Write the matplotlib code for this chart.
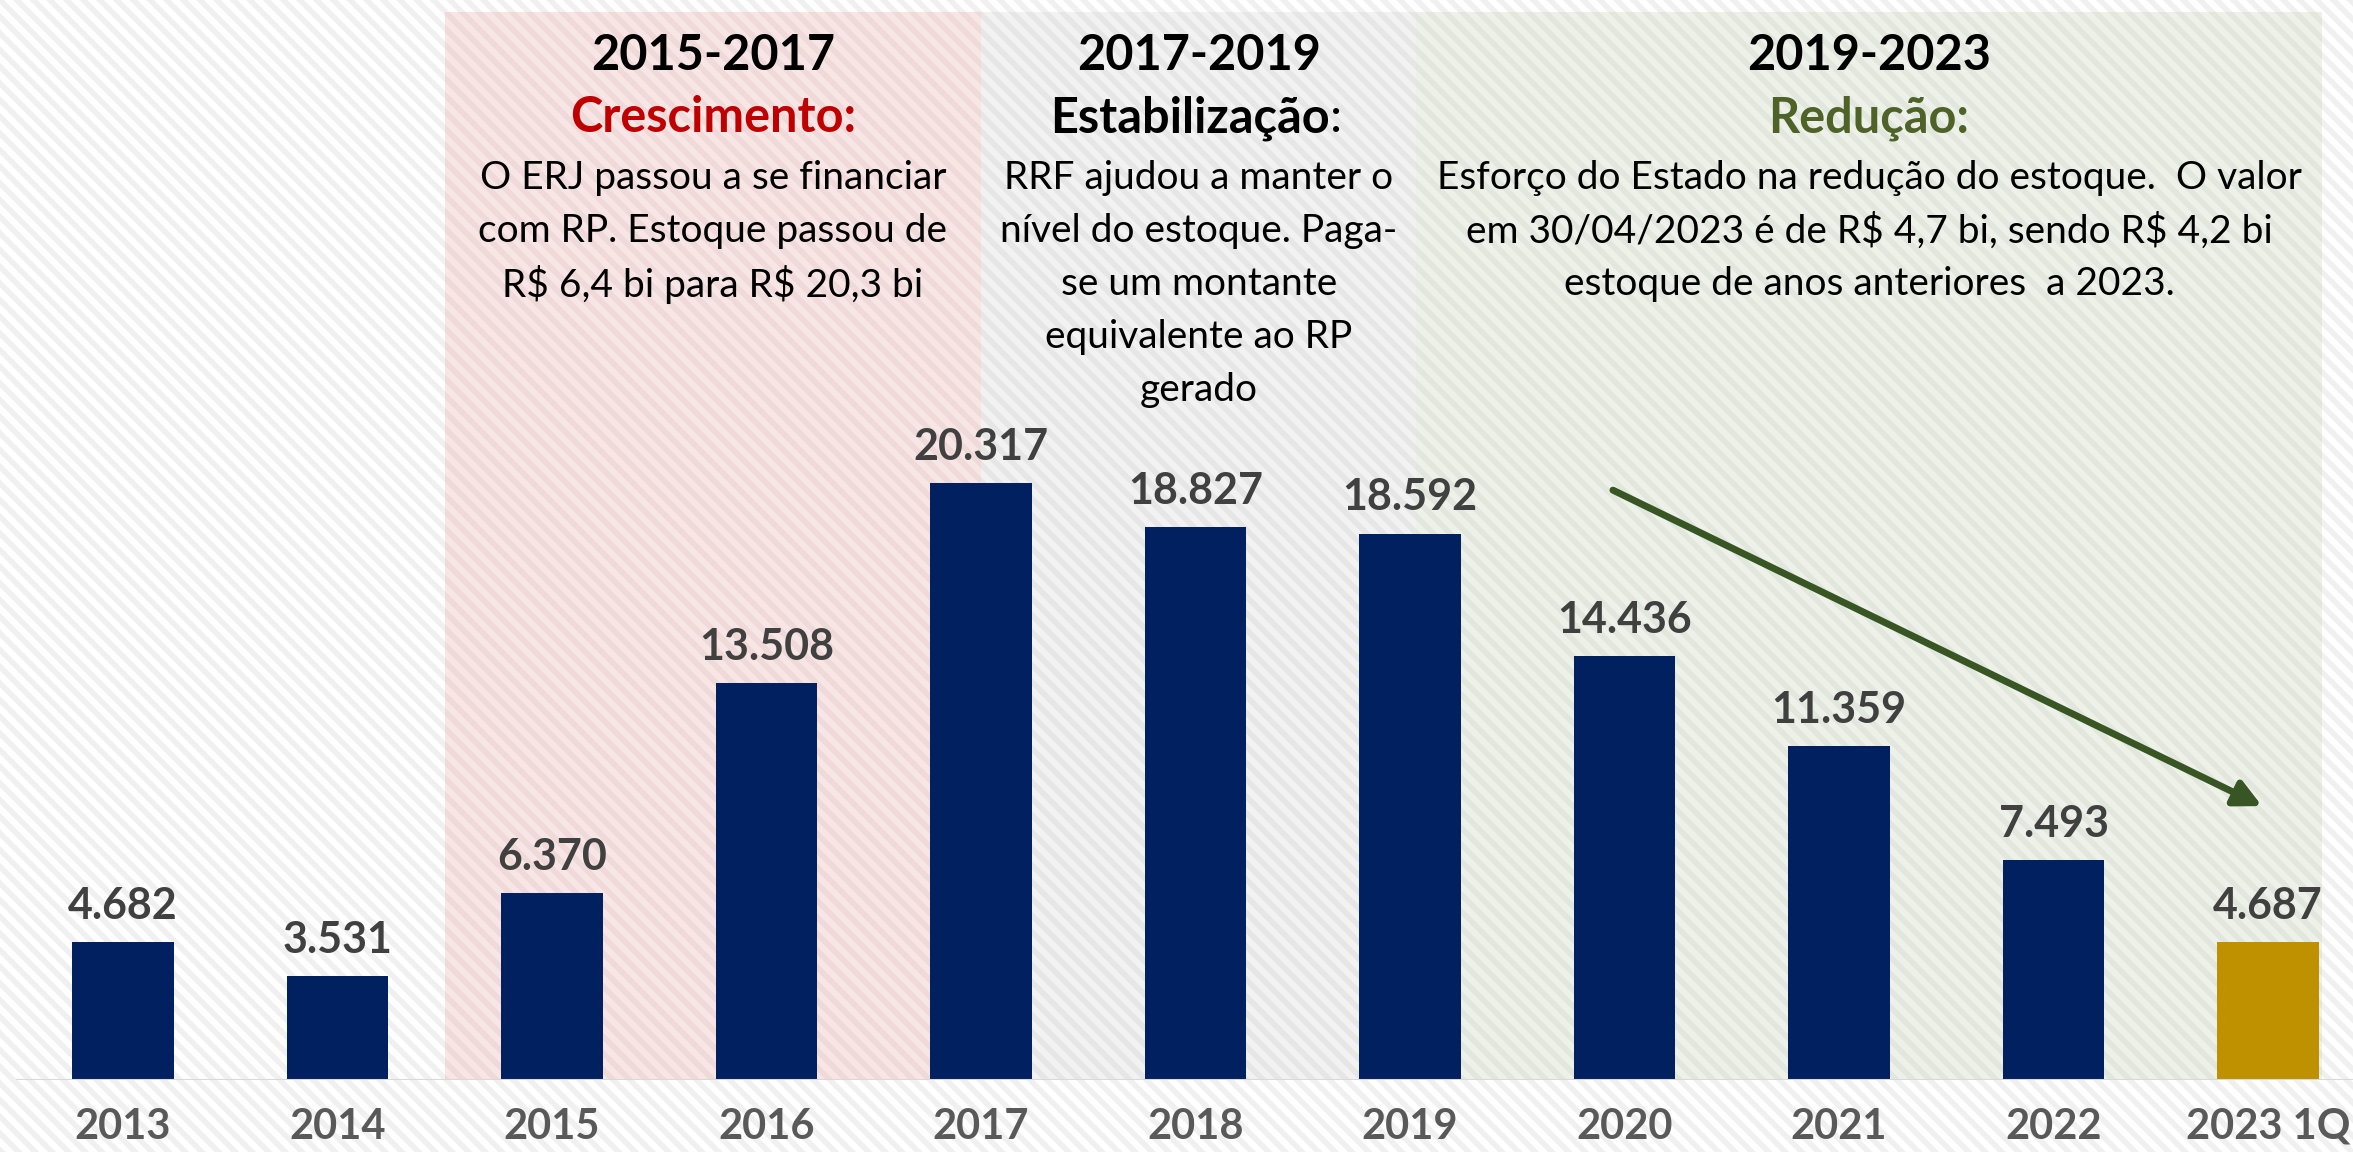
import numpy as np
import matplotlib.pyplot as plt
from matplotlib.patches import Rectangle

plt.rcParams['font.family'] = ['Lato', 'DejaVu Sans']
plt.rcParams['hatch.linewidth'] = 4.0

# dados (R$ milhões)
anos = ['2013', '2014', '2015', '2016', '2017', '2018', '2019',
        '2020', '2021', '2022', '2023 1Q']
estoque = [4682, 3531, 6370, 13508, 20317, 18827, 18592,
           14436, 11359, 7493, 4687]
cores = ['#002060'] * 10 + ['#BF9000']

periodos = ['2015-2017', '2017-2019', '2019-2023']
titulos = ['Crescimento:', 'Estabilização', 'Redução:']
cor_titulos = ['#C00000', '#000000', '#4F6228']
textos = [
    ['O ERJ passou a se financiar', 'com RP. Estoque passou de',
     r'R\$ 6,4 bi para R\$ 20,3 bi'],
    ['RRF ajudou a manter o', 'nível do estoque. Paga-', 'se um montante',
     'equivalente ao RP', 'gerado'],
    ['Esforço do Estado na redução do estoque.  O valor',
     r'em 30/04/2023 é de R\$ 4,7 bi, sendo R\$ 4,2 bi',
     'estoque de anos anteriores  a 2023.'],
]
faixas = [(1.5, 4.0), (4.0, 6.03), (6.03, 10.25)]
cor_faixas = [('#F8E6E6', '#EFD9D9'), ('#F2F2F2', '#E6E6E6'), ('#EEF1EA', '#E2E7DD')]

W, H = 2353, 1152
fig = plt.figure(figsize=(W / 100, H / 100), dpi=100)
fig.patches.append(Rectangle((0, 0), 1, 1, transform=fig.transFigure,
                             facecolor='white', edgecolor='#F0F0F0',
                             hatch='\\\\', lw=0, zorder=-10))

base = 1080
ax = fig.add_axes([15.75 / W, (H - base) / H, 1 - 15.75 / W, base / H])
ax.patch.set_alpha(0)
px_unit = 29.39
ax.set_xlim(-0.5, -0.5 + (W - 15.75) / 214.5)
ax.set_ylim(0, base / px_unit)


def ypx(y_full):
    return (base - y_full) / px_unit


for (x0, x1), (fc, hc) in zip(faixas, cor_faixas):
    ax.add_patch(Rectangle((x0, 0), x1 - x0, ypx(12), facecolor=fc,
                           edgecolor=hc, hatch='\\\\', lw=0, zorder=0))

x = np.arange(len(anos))
vals = np.array(estoque) / 1000
ax.bar(x, vals, width=0.475, color=cores, zorder=3)
for xi, v, raw in zip(x, vals, estoque):
    ax.annotate(f'{raw:,}'.replace(',', '.'), (xi, v), xytext=(0, 26),
                textcoords='offset points', ha='center', va='center',
                fontsize=31, fontweight='bold', color='#404040', zorder=4)

ax.axhline(0, color='#D9D9D9', lw=2.2, zorder=4)

ax.set_xticks(x)
ax.set_xticklabels(anos, fontsize=30, fontweight='bold', color='#595959')
ax.tick_params(axis='x', length=0, pad=20)
ax.set_yticks([])
for s in ax.spines.values():
    s.set_visible(False)

for i, ((x0, x1), per, tit, ct, linhas) in enumerate(
        zip(faixas, periodos, titulos, cor_titulos, textos)):
    xc = (x0 + x1) / 2
    ax.text(xc, ypx(55), per, ha='center', va='center', fontsize=35,
            fontweight='bold', color='black', zorder=5)
    t = ax.text(xc - (0.04 if i == 1 else 0), ypx(118), tit, ha='center',
                va='center', fontsize=35, fontweight='bold', color=ct, zorder=5)
    if i == 1:
        ax.annotate(':', xy=(1, 0.5), xycoords=t, ha='left', va='center',
                    fontsize=35, color='black', zorder=5)
    for j, ln in enumerate(linhas):
        ax.text(xc, ypx(178 + 53 * j), ln, ha='center', va='center',
                fontsize=28, color='black', zorder=5)

ax.annotate('', xy=(9.972, 9.32), xytext=(6.946, 20.07),
            arrowprops=dict(arrowstyle='-|>,head_length=1.6,head_width=0.8',
                            color='#375623', lw=5, shrinkA=0, shrinkB=0),
            zorder=6)

fig.savefig('out.png', dpi=100)
